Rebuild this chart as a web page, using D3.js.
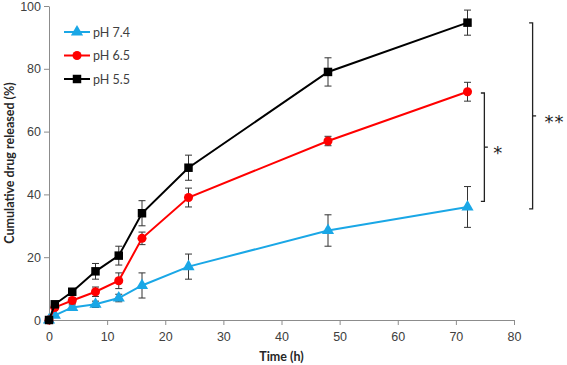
<!DOCTYPE html>
<html>
<head>
<meta charset="utf-8">
<script src="https://cdn.jsdelivr.net/npm/d3@7"></script>
<style>
  body { margin: 0; background: #fff; }
  svg { display: block; font-family: Lato, "Open Sans", sans-serif; }
</style>
</head>
<body>
<div id="chart"></div>
<script>
// time points (h)
const times = [0, 1, 4, 8, 12, 16, 24, 48, 72];

// cumulative release (%) and error (sd)
const ph74 = [0, 1.5, 4, 5, 7, 11, 17, 28.5, 36];
const ph74Err = [0, 0.5, 0.8, 1, 1.2, 4, 4, 5, 6.5];
const ph65 = [0, 4, 6.2, 9, 12.5, 26, 39, 57, 72.7];
const ph65Err = [0, 0.6, 1, 1.5, 2.5, 2, 3, 1.5, 3];
const ph55 = [0, 5, 9, 15.5, 20.5, 34, 48.5, 79, 94.7];
const ph55Err = [0, 0.8, 1, 2.5, 3, 4, 4, 4.5, 4];

const seriesNames = ["pH 7.4", "pH 6.5", "pH 5.5"];
const xTicks = [0, 10, 20, 30, 40, 50, 60, 70, 80];
const yTicks = [0, 20, 40, 60, 80, 100];

const width = 567, height = 365;
const margin = { top: 6, right: 53, bottom: 45, left: 49 };

const series = [
    { name: seriesNames[0], values: ph74, err: ph74Err, color: "#1aa7e6", shape: d3.symbolTriangle, size: 64 },
    { name: seriesNames[1], values: ph65, err: ph65Err, color: "#ff0000", shape: d3.symbolCircle, size: 64 },
    { name: seriesNames[2], values: ph55, err: ph55Err, color: "#000000", shape: d3.symbolSquare, size: 72 }
];

const svg = d3.select("#chart").append("svg")
    .attr("width", width)
    .attr("height", height);

const x = d3.scaleLinear().domain([0, 80]).range([margin.left, width - margin.right]);
const y = d3.scaleLinear().domain([0, 100]).range([height - margin.bottom, margin.top]);

// axes
const xAxis = svg.append("g")
    .attr("transform", `translate(0,${y(0)})`)
    .call(d3.axisBottom(x).tickValues(xTicks).tickSize(5).tickSizeOuter(0));
const yAxis = svg.append("g")
    .attr("transform", `translate(${x(0)},0)`)
    .call(d3.axisLeft(y).tickValues(yTicks).tickSize(5).tickSizeOuter(0));

[xAxis, yAxis].forEach(a => {
    a.select(".domain").attr("stroke", "#8c8c8c");
    a.selectAll(".tick line").attr("stroke", "#8c8c8c");
    a.selectAll(".tick text").attr("fill", "#404040").style("font-size", "12.5px");
});
xAxis.selectAll(".tick text").attr("dy", "1.05em");
yAxis.selectAll(".tick text").attr("x", -8);

// axis titles
svg.append("text")
    .attr("x", x(40))
    .attr("y", 361)
    .attr("text-anchor", "middle")
    .style("font-size", "12.5px")
    .style("font-weight", "bold")
    .attr("fill", "#262626")
    .text("Time (h)");

svg.append("text")
    .attr("transform", `translate(14,${y(50)}) rotate(-90)`)
    .attr("text-anchor", "middle")
    .style("font-size", "12.5px")
    .style("font-weight", "bold")
    .attr("fill", "#262626")
    .text("Cumulative drug released (%)");

const line = d3.line()
    .x((d, i) => x(times[i]))
    .y(d => y(d));

// draw series, black last so it sits on top
series.forEach(s => {
    const g = svg.append("g");

    // error bars
    s.values.forEach((v, i) => {
        if (s.err[i] <= 0) return;
        const cx = x(times[i]);
        const y1 = y(v + s.err[i]), y2 = y(v - s.err[i]);
        g.append("line").attr("x1", cx).attr("x2", cx).attr("y1", y1).attr("y2", y2)
            .attr("stroke", "#333").attr("stroke-width", 1);
        [y1, y2].forEach(yy => {
            g.append("line").attr("x1", cx - 3.5).attr("x2", cx + 3.5).attr("y1", yy).attr("y2", yy)
                .attr("stroke", "#333").attr("stroke-width", 1);
        });
    });

    g.append("path")
        .datum(s.values)
        .attr("d", line)
        .attr("fill", "none")
        .attr("stroke", s.color)
        .attr("stroke-width", 2);

    g.selectAll("path.pt")
        .data(s.values)
        .enter()
        .append("path")
        .attr("class", "pt")
        .attr("transform", (d, i) => `translate(${x(times[i])},${y(d)})`)
        .attr("d", d3.symbol().type(s.shape).size(s.size))
        .attr("fill", s.color);
});

// legend
const legend = svg.append("g").attr("transform", "translate(64,32)");
series.forEach((s, i) => {
    const row = legend.append("g").attr("transform", `translate(0,${i * 23.5})`);
    row.append("line").attr("x1", 0).attr("x2", 26).attr("y1", 0).attr("y2", 0)
        .attr("stroke", s.color).attr("stroke-width", 2);
    row.append("path")
        .attr("transform", "translate(13,0)")
        .attr("d", d3.symbol().type(s.shape).size(s.size))
        .attr("fill", s.color);
    row.append("text")
        .attr("x", 29)
        .attr("y", 4.5)
        .style("font-size", "12.5px")
        .attr("fill", "#404040")
        .text(s.name);
});

// significance brackets
function bracket(xPos, top, bottom, label, labelDx) {
    const g = svg.append("g").attr("stroke", "#222").attr("stroke-width", 1.3).attr("fill", "none");
    const x0 = x(xPos);
    const yt = y(top), yb = y(bottom), ym = (yt + yb) / 2;
    g.append("path")
        .attr("d", `M${x0},${yt} H${x0 + 3.5} V${yb} H${x0}`);
    g.append("path")
        .attr("d", `M${x0 + 3.5},${ym} H${x0 + 7}`);
    svg.append("text")
        .attr("x", x0 + 3.5 + labelDx)
        .attr("y", ym + 12)
        .style("font-family", "'DejaVu Sans', sans-serif")
        .style("font-size", "18px")
        .style("letter-spacing", "1px")
        .attr("fill", "#222")
        .text(label);
}
bracket(74.3, 72.3, 37.8, "*", 9);
bracket(82.6, 94.6, 35.4, "**", 12);
</script>
</body>
</html>
